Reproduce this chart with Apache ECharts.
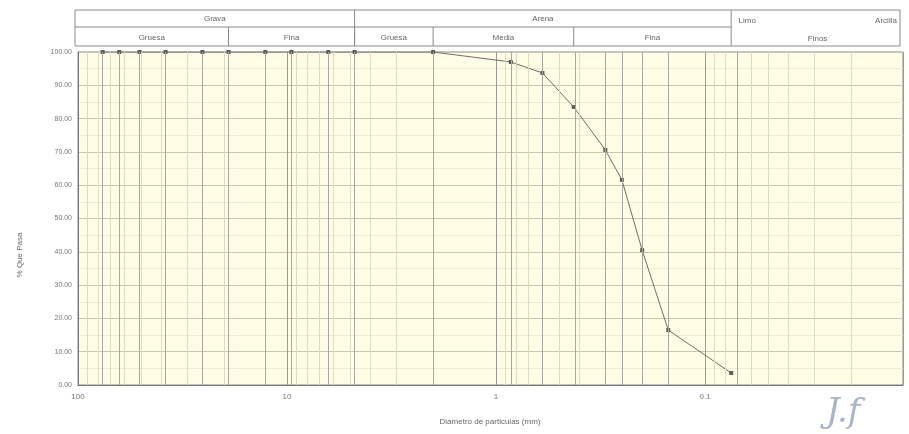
<!DOCTYPE html>
<html><head><meta charset="utf-8">
<script src="https://cdn.jsdelivr.net/npm/echarts@6/dist/echarts.min.js"></script>
<style>html,body{margin:0;padding:0;background:#fff}#c{width:909px;height:434px}</style>
</head><body><div id="c"></div>
<script>
// ---- data ----
const sieveSizes = [76.2, 63.5, 50.8, 38.1, 25.4, 19.05, 12.7, 9.525, 6.35, 4.75, 2.0, 0.85, 0.6, 0.425, 0.3, 0.25, 0.2, 0.15, 0.075];
const passing    = [100, 100, 100, 100, 100, 100, 100, 100, 100, 100, 100, 97.0, 93.7, 83.5, 70.6, 61.6, 40.5, 16.5, 3.6];
const xMajorTicks = [100, 10, 1, 0.1];
const yTickLabels = ['0.00','10.00','20.00','30.00','40.00','50.00','60.00','70.00','80.00','90.00','100.00'];
const headerTopLabels = ['Grava', 'Arena'];
const headerTopBounds = [100, 4.75, 0.075];
const headerSubLabels = ['Gruesa', 'Fina', 'Gruesa', 'Media', 'Fina'];
const headerSubBounds = [100, 19.05, 4.75, 2.0, 0.425, 0.075];
const finesTopLabels = ['Limo', 'Arcilla'];
const finesSubLabel = 'Finos';
const xTitle = 'Diametro de particulas (mm)';
const yTitle = '% Que Pasa';
const xMin = 0.0113, xMax = 100;

// log-paper minor grid values (2..9 in each decade) within range
const minorGrid = [];
[0.01, 0.1, 1, 10].forEach(d => { for (let k = 2; k <= 9; k++) { const v = +(k * d).toPrecision(3); if (v >= xMin && v <= xMax) minorGrid.push(v); } });

const chart = echarts.init(document.getElementById('c'));
const pts = sieveSizes.map((s, i) => [s, passing[i]]);

chart.setOption({
  animation: false,
  backgroundColor: '#ffffff',
  grid: { left: 78, right: 6, top: 52, bottom: 49, show: true, backgroundColor: '#fffde6', borderColor: '#888', borderWidth: 1 },
  xAxis: {
    type: 'log', logBase: 10, min: xMin, max: xMax, inverse: true,
    axisLine: { show: true, lineStyle: { color: '#777' } },
    axisTick: { show: false },
    axisLabel: {
      color: '#777', fontSize: 8, fontFamily: 'Liberation Sans', margin: 8,
      formatter: v => { const l = Math.log10(v); return Math.abs(l - Math.round(l)) < 1e-6 && xMajorTicks.includes(+v.toPrecision(3)) ? String(+v.toPrecision(3)) : ''; }
    },
    splitLine: { show: true, lineStyle: { color: '#9a9a90', width: 1 } },
    minorTick: { show: false }
  },
  yAxis: {
    type: 'value', min: 0, max: 100, interval: 10,
    axisLine: { show: true, lineStyle: { color: '#777' } },
    axisTick: { show: false },
    axisLabel: { color: '#777', fontSize: 7, fontFamily: 'Liberation Sans', margin: 6, formatter: v => yTickLabels[Math.round(v / 10)] },
    splitLine: { show: true, lineStyle: { color: '#c8c6b4' } },
    minorTick: { show: false, splitNumber: 2 },
    minorSplitLine: { show: true, lineStyle: { color: '#eeebd4' } }
  },
  series: [
    {
      type: 'line', data: [], silent: true,
      markLine: {
        silent: true, symbol: 'none', label: { show: false },
        data: minorGrid.map(v => ({ xAxis: v, lineStyle: { color: '#dedbc4', width: 1, type: 'solid' } }))
          .concat(sieveSizes.map(v => ({ xAxis: v, lineStyle: { color: '#a9a89e', width: 1, type: 'solid' } })))
      }
    },
    {
      type: 'line', data: pts, smooth: false,
      lineStyle: { color: '#6f6f6a', width: 1 },
      symbol: 'rect', symbolSize: 4,
      itemStyle: { color: '#5e5e58' }
    }
  ]
});

// header table placed through the axis scale
function px(v) { return chart.convertToPixel({ xAxisIndex: 0 }, v); }
const top0 = 10, mid = 27, bot = 46;
const rightEdge = 900;
const g = [];
const lineC = '#8a8a8a';
const txtStyle = (x, y, t) => ({ type: 'text', x, y, style: { text: t, fill: '#666', font: '8px "Liberation Sans"', align: 'center', verticalAlign: 'middle' } });
const leftX = px(100) - 3;
// outer box
g.push({ type: 'rect', shape: { x: leftX, y: top0, width: rightEdge - leftX, height: bot - top0 }, style: { fill: '#fff', stroke: lineC, lineWidth: 1 } });
const finesX = px(0.075);
// middle line (except fines box)
g.push({ type: 'line', shape: { x1: leftX, y1: mid, x2: finesX, y2: mid }, style: { stroke: lineC, lineWidth: 1 } });
// top row dividers & labels
headerTopBounds.forEach((b, i) => { if (i > 0) g.push({ type: 'line', shape: { x1: px(b), y1: top0, x2: px(b), y2: bot }, style: { stroke: lineC } }); });
headerTopLabels.forEach((t, i) => { const a = i === 0 ? leftX : px(headerTopBounds[i]); const b = px(headerTopBounds[i + 1]); g.push(txtStyle((a + b) / 2, (top0 + mid) / 2, t)); });
// sub row
headerSubBounds.forEach((b, i) => { if (i > 0 && i < headerSubBounds.length - 1) g.push({ type: 'line', shape: { x1: px(b), y1: mid, x2: px(b), y2: bot }, style: { stroke: lineC } }); });
headerSubLabels.forEach((t, i) => { const a = i === 0 ? leftX : px(headerSubBounds[i]); const b = px(headerSubBounds[i + 1]); g.push(txtStyle((a + b) / 2, (mid + bot) / 2 + 1, t)); });
// fines box
g.push(txtStyle(finesX + 16, (top0 + mid) / 2 + 2, finesTopLabels[0]));
g.push(txtStyle(rightEdge - 14, (top0 + mid) / 2 + 2, finesTopLabels[1]));
g.push(txtStyle((finesX + rightEdge) / 2 + 2, (mid + bot) / 2 + 2, finesSubLabel));
// axis titles
g.push({ type: 'text', x: 490, y: 422, style: { text: xTitle, fill: '#666', font: '8px "Liberation Sans"', align: 'center', verticalAlign: 'middle' } });
g.push({ type: 'text', x: 20, y: 255, rotation: Math.PI / 2, style: { text: yTitle, fill: '#666', font: '8px "Liberation Sans"', align: 'center', verticalAlign: 'middle' } });
// signature
g.push({ type: 'text', x: 826, y: 396, style: { text: 'J.f', fill: '#aab4c6', font: 'italic 34px "DejaVu Serif"' } });
chart.setOption({ graphic: g });
</script>
</body></html>
